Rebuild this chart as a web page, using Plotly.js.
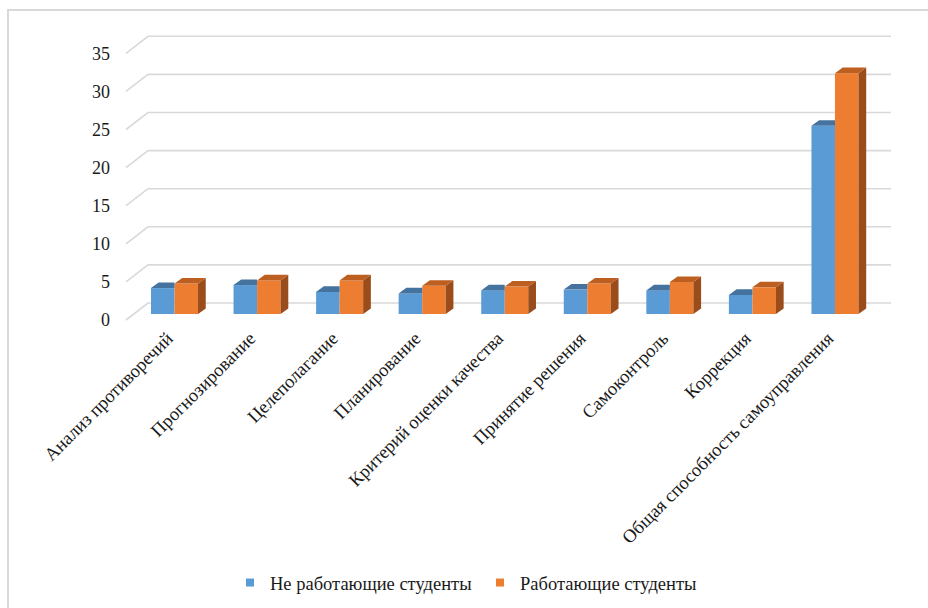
<!DOCTYPE html>
<html>
<head>
<meta charset="utf-8">
<script src="https://cdn.plot.ly/plotly-3.0.1.min.js"></script>
<style>
  html, body { margin: 0; padding: 0; background: #ffffff; }
  #wrap { position: relative; width: 928px; height: 608px; overflow: hidden; }
  #chart { position: absolute; left: 0; top: 0; width: 928px; height: 608px; }
  #frame { position: absolute; left: 7px; top: 9px; width: 1000px; height: 1000px;
           border: 2px solid #d9d9d9; pointer-events: none; box-sizing: border-box; }
</style>
</head>
<body>
<div id="wrap"><div id="chart"></div><div id="frame"></div></div>
<script>
// ---- data ----
const categories = [
  "Анализ противоречий",
  "Прогнозирование",
  "Целеполагание",
  "Планирование",
  "Критерий оценки качества",
  "Принятие решения",
  "Самоконтроль",
  "Коррекция",
  "Общая способность самоуправления"
];
const notWorking = [3.4, 3.8, 2.9, 2.7, 3.1, 3.2, 3.1, 2.5, 24.7];
const working    = [4.0, 4.4, 4.4, 3.7, 3.6, 4.0, 4.2, 3.5, 31.6];
const seriesNames = ["Не работающие студенты", "Работающие студенты"];
const yTicks = [0, 5, 10, 15, 20, 25, 30, 35];

// ---- geometry (pixels) ----
const W = 928, H = 608;
const plotL = 113, plotR = 900, plotT = 20, plotB = 330;
const catPx = 82.56, cat0Px = 174.5;   // pixel of category 0 centre
const yPx = 7.62, y0Px = 314;          // pixel of value 0 on the bar plane
const xRange = [(plotL - cat0Px) / catPx, (plotR - cat0Px) / catPx];
const yRange = [(y0Px - plotB) / yPx, (y0Px - plotT) / yPx];
const px2x = p => (p - cat0Px) / catPx;
const dpx2y = d => d / yPx;

const barW = 0.285;                     // bar width in category units
const depthX = 7.7 / catPx, depthY = dpx2y(5.6);

const FONT = "Liberation Serif";
const TXT = "#1a1a1a";
const FS = 18.5;
const BLUE = "#5b9bd5", BLUE_TOP = "#44739f";
const ORANGE = "#ed7d31", ORANGE_TOP = "#bd5f20", ORANGE_SIDE = "#9a4c1b";

const idx = categories.map((_, i) => i);

// top / side faces of the 3-D columns, derived from the data values
function facePolys(kind) {
  const xs = [], ys = [];
  idx.forEach(i => {
    let pts;
    if (kind === 'blueTop') {
      const v = notWorking[i];
      pts = [[i - barW, v], [i, v], [i, v + depthY], [i - barW + depthX, v + depthY]];
    } else if (kind === 'orangeTop') {
      const v = working[i];
      pts = [[i, v], [i + barW, v], [i + barW + depthX, v + depthY], [i + depthX, v + depthY]];
    } else {
      const v = working[i];
      pts = [[i + barW, 0], [i + barW, v], [i + barW + depthX, v + depthY], [i + barW + depthX, depthY]];
    }
    pts.forEach(p => { xs.push(p[0]); ys.push(p[1]); });
    xs.push(pts[0][0]); ys.push(pts[0][1]);
    xs.push(null); ys.push(null);
  });
  return {x: xs, y: ys};
}

function faceTrace(kind, color) {
  const p = facePolys(kind);
  return {
    type: 'scatter', mode: 'lines', x: p.x, y: p.y,
    fill: 'toself', fillcolor: color, line: {width: 0, color: color},
    connectgaps: false, hoverinfo: 'skip', showlegend: false
  };
}

const traces = [
  {
    type: 'bar', name: seriesNames[0], x: idx, y: notWorking,
    offset: -barW, width: barW, marker: {color: BLUE, line: {width: 0}},
    showlegend: false, hoverinfo: 'y'
  },
  {
    type: 'bar', name: seriesNames[1], x: idx, y: working,
    offset: 0, width: barW, marker: {color: ORANGE, line: {width: 0}},
    showlegend: false, hoverinfo: 'y'
  },
  faceTrace('blueTop', BLUE_TOP),
  faceTrace('orangeSide', ORANGE_SIDE),
  faceTrace('orangeTop', ORANGE_TOP),
  // legend entries (small square keys)
  {type: 'scatter', mode: 'markers', name: seriesNames[0], x: [null], y: [null],
   marker: {symbol: 'square', size: 8, color: BLUE}},
  {type: 'scatter', mode: 'markers', name: seriesNames[1], x: [null], y: [null],
   marker: {symbol: 'square', size: 8, color: ORANGE}}
];

// gridlines: front diagonal + back-wall line per tick value
const xFront = px2x(126), xBack = px2x(148), xEnd = px2x(891);
const yFrontOff = dpx2y(-6), yBackOff = dpx2y(11);
const shapes = yTicks.map(t => ({
  type: 'path', xref: 'x', yref: 'y', layer: 'below',
  path: `M${xFront},${t + yFrontOff} L${xBack},${t + yBackOff} L${xEnd},${t + yBackOff}`,
  line: {color: '#d9d9d9', width: 1.6}
}));

const layout = {
  width: W, height: H,
  margin: {l: plotL, r: W - plotR, t: plotT, b: H - plotB, pad: 0, autoexpand: false},
  paper_bgcolor: '#ffffff', plot_bgcolor: 'rgba(0,0,0,0)',
  font: {family: FONT, size: FS, color: TXT},
  barmode: 'overlay',
  showlegend: true,
  legend: {
    orientation: 'h', x: (230 - plotL) / (plotR - plotL), xanchor: 'left',
    y: (plotB - 583) / (plotB - plotT), yanchor: 'middle',
    entrywidth: 205, entrywidthmode: 'pixels',
    font: {family: FONT, size: FS, color: TXT},
    bgcolor: 'rgba(0,0,0,0)', traceorder: 'normal'
  },
  xaxis: {
    range: xRange, tickmode: 'array', tickvals: idx, ticktext: categories,
    tickangle: -45, showgrid: false, zeroline: false, showline: false, automargin: false,
    ticklabelshift: -7, ticklabelstandoff: -7,
    ticks: '', tickfont: {family: FONT, size: FS, color: TXT}, fixedrange: true
  },
  yaxis: {
    range: yRange, tickmode: 'array', tickvals: yTicks, ticktext: yTicks.map(String),
    showgrid: false, zeroline: false, showline: false, ticks: '', automargin: false,
    ticklabelshift: 6, ticklabelstandoff: 2,
    tickfont: {family: FONT, size: 18, color: TXT}, fixedrange: true
  },
  shapes: shapes
};

Plotly.newPlot('chart', traces, layout, {displayModeBar: false, staticPlot: true});
</script>
</body>
</html>
